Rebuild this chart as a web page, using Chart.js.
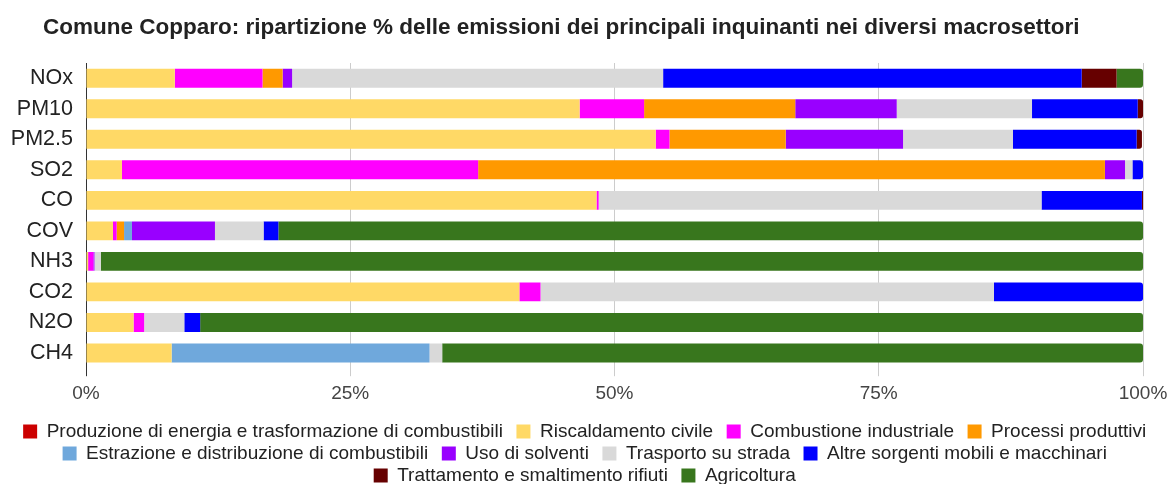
<!DOCTYPE html>
<html>
<head>
<meta charset="utf-8">
<script src="https://cdn.jsdelivr.net/npm/chart.js@4"></script>
<style>
  html, body { margin: 0; padding: 0; background: #fff; }
  #wrap { width: 1169px; height: 484px; }
</style>
</head>
<body>
<div id="wrap"><canvas id="chart" width="1169" height="484"></canvas></div>
<script>
// inquinanti (asse verticale)
const inquinanti = ['NOx', 'PM10', 'PM2.5', 'SO2', 'CO', 'COV', 'NH3', 'CO2', 'N2O', 'CH4'];
const xTicks = [0, 25, 50, 75, 100];

// quote % per macrosettore
const produzione   = [0, 0, 0, 0, 0, 0, 0, 0, 0, 0];
const riscaldamento = [8.4, 46.7, 53.9, 3.4, 48.3, 2.55, 0.2, 41.0, 4.5, 8.1];
const combustione  = [8.3, 6.1, 1.3, 33.7, 0.2, 0.35, 0.5, 2.0, 1.0, 0];
const processi     = [1.9, 14.3, 11.0, 59.3, 0, 0.7, 0, 0, 0, 0];
const estrazione   = [0, 0, 0, 0, 0, 0.75, 0, 0, 0, 24.4];
const solventi     = [0.9, 9.6, 11.1, 1.9, 0, 7.85, 0.1, 0, 0, 0];
const trasporto    = [35.1, 12.8, 10.4, 0.7, 41.9, 4.6, 0.6, 42.9, 3.8, 1.2];
const altre        = [39.6, 10.0, 11.7, 1.0, 9.5, 1.4, 0, 14.1, 1.5, 0];
const rifiuti      = [3.3, 0.5, 0.5, 0, 0.1, 0, 0, 0, 0, 0];
const agricoltura  = [2.5, 0, 0, 0, 0, 81.8, 98.6, 0, 89.2, 66.3];

const settori = [
    ['Produzione di energia e trasformazione di combustibili', produzione, '#cc0000'],
    ['Riscaldamento civile', riscaldamento, '#ffd966'],
    ['Combustione industriale', combustione, '#ff00ff'],
    ['Processi produttivi', processi, '#ff9900'],
    ['Estrazione e distribuzione di combustibili', estrazione, '#6fa8dc'],
    ['Uso di solventi', solventi, '#9900ff'],
    ['Trasporto su strada', trasporto, '#d9d9d9'],
    ['Altre sorgenti mobili e macchinari', altre, '#0000ff'],
    ['Trattamento e smaltimento rifiuti', rifiuti, '#660000'],
    ['Agricoltura', agricoltura, '#38761d'],
];

Chart.defaults.font.family = '"Liberation Sans", Arial, sans-serif';

const datasets = settori.map(s => ({
    label: s[0],
    data: s[1],
    backgroundColor: s[2],
    borderWidth: 0,
    borderRadius: 3,
    barPercentage: 0.62,
    categoryPercentage: 1,
}));

// titolo spostato un po' a sinistra come nell'originale
const titleShift = {
    id: 'titleShift',
    afterLayout(chart) {
        chart.titleBlock.left = 43;
    }
};

const ctx = document.querySelector('#chart').getContext('2d');
const emissChart = new Chart(ctx, {
    type: 'bar',
    data: { labels: inquinanti, datasets: datasets },
    plugins: [titleShift],
    options: {
        indexAxis: 'y',
        responsive: false,
        animation: false,
        layout: { padding: { left: 11, right: 0, top: 0, bottom: -11 } },
        plugins: {
            title: {
                display: true,
                align: 'start',
                text: 'Comune Copparo: ripartizione % delle emissioni dei principali inquinanti nei diversi macrosettori',
                color: '#222',
                font: { size: 22.5, weight: 'bold' },
                padding: { top: 14, bottom: 22 },
            },
            legend: {
                position: 'bottom',
                labels: {
                    color: '#222',
                    font: { size: 19 },
                    boxWidth: 14,
                    boxHeight: 14,
                    padding: 3,
                    // un po' di spazio in più tra le voci
                    generateLabels: chart => Chart.defaults.plugins.legend.labels.generateLabels(chart)
                        .map(l => ({ ...l, text: l.text + '  ' })),
                },
            },
            tooltip: { enabled: false },
        },
        scales: {
            x: {
                stacked: true,
                min: 0,
                max: 100,
                afterBuildTicks: axis => { axis.ticks = xTicks.map(v => ({ value: v })); },
                afterFit: axis => {
                    axis.height += 8;
                    axis.paddingRight = 26;
                },
                ticks: {
                    color: '#444',
                    font: { size: 19 },
                    padding: 6,
                    callback: v => v + '%',
                },
                grid: {
                    color: c => c.index === 0 ? '#333' : '#ccc',
                    tickLength: 8,
                },
                border: { display: false },
            },
            y: {
                stacked: true,
                afterFit: axis => { axis.width = 75; },
                ticks: { color: '#222', font: { size: 21.5 }, padding: 13 },
                grid: { display: false, drawTicks: false },
                border: { display: false },
            },
        },
    },
});
</script>
</body>
</html>
